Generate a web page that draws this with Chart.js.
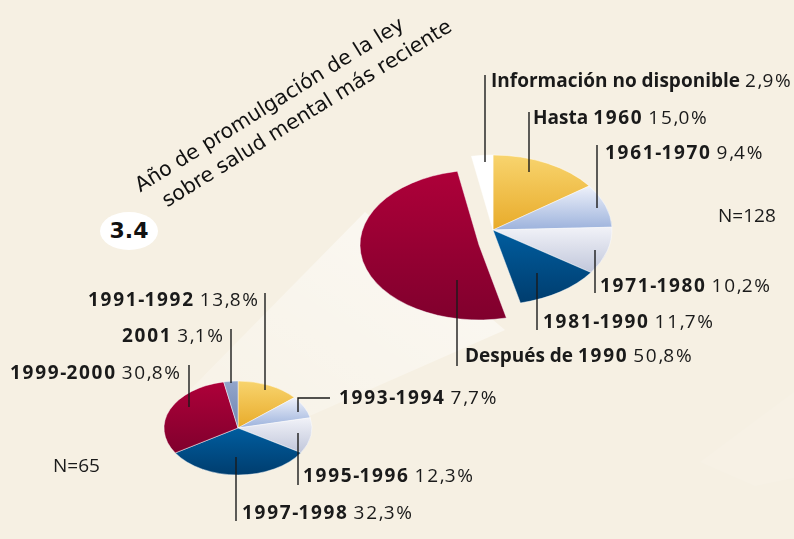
<!DOCTYPE html>
<html>
<head>
<meta charset="utf-8">
<script src="https://cdn.jsdelivr.net/npm/chart.js@4.4.0/dist/chart.umd.min.js"></script>
<style>
  html, body { margin: 0; padding: 0; }
  body { width: 794px; height: 539px; overflow: hidden; background: #f6f0e3; }
  #stage { position: relative; width: 794px; height: 539px; font-family: "Open Sans", sans-serif; color: #1a1a1a; }
  #bg, #lines { position: absolute; left: 0; top: 0; }
  canvas { position: absolute; }
  .lab { position: absolute; font-size: 19px; line-height: 19px; white-space: nowrap; }
  .lab b { font-weight: 700; }
  .dg { letter-spacing: 1.7px; }
  .ttl { position: absolute; font-family: "DejaVu Sans", sans-serif; font-size: 20.5px; line-height: 20.5px;
         white-space: nowrap; transform-origin: 0 100%; transform: rotate(-31.8deg); color: #111; }
  #badge { position: absolute; left: 100px; top: 212px; width: 58px; height: 38px; border-radius: 50%;
           background: #fff; font-family: "DejaVu Sans", sans-serif; font-weight: bold; font-size: 22px;
           line-height: 38px; text-align: center; color: #111; }
</style>
</head>
<body>
<div id="stage">
  <svg id="bg" width="794" height="539">
    <defs>
      <linearGradient id="beam" x1="0" y1="1" x2="1" y2="0">
        <stop offset="0" stop-color="#ffffff" stop-opacity="0.15"/>
        <stop offset="1" stop-color="#ffffff" stop-opacity="0.6"/>
      </linearGradient>
    </defs>
    <polygon points="185,395 365,212 505,330 305,418" fill="url(#beam)"/>
    <polygon points="700,462 794,392 794,478 755,486" fill="#ffffff" fill-opacity="0.1"/>
  </svg>
  <canvas id="bigRest" width="300" height="300" style="left:343px;top:80px;width:300px;height:300px"></canvas>
  <canvas id="bigOut" width="300" height="300" style="left:329px;top:95px;width:300px;height:300px"></canvas>
  <canvas id="small" width="180" height="180" style="left:148px;top:338px;width:180px;height:180px"></canvas>
  <svg id="lines" width="794" height="539"></svg>
  <div class="ttl" style="left:142px;top:175px">Año de promulgación de la ley</div>
  <div class="ttl" style="left:169px;top:190px">sobre salud mental más reciente</div>
  <div id="badge">3.4</div>
</div>
<script>
// gran pastel: N=128
var bigLabels = ['Hasta 1960', '1961-1970', '1971-1980', '1981-1990', 'Después de 1990', 'Información no disponible'];
var bigValues = [15.0, 9.4, 10.2, 11.7, 50.8, 2.9];
var bigN = 128;
var bigExploded = 4;
// pastel pequeño: N=65
var smallLabels = ['1991-1992', '1993-1994', '1995-1996', '1997-1998', '1999-2000', '2001'];
var smallValues = [13.8, 7.7, 12.3, 32.3, 30.8, 3.1];
var smallN = 65;

var YELLOW = ['#f8d46e', '#e8ab2a'];
var LBLUE = ['#eef1fa', '#9cb2dc'];
var PALE = ['#f1f2f8', '#c1c7db'];
var DBLUE = ['#005d9f', '#003d6e'];
var RED = ['#ae0039', '#80002d'];
var WHITE = ['#ffffff', '#ffffff'];
var GREY = ['#93a6cb', '#6f84b2'];

var bigColors = [YELLOW, LBLUE, PALE, DBLUE, RED, WHITE];
var smallColors = [YELLOW, LBLUE, PALE, DBLUE, RED, GREY];

var squash = {
  id: 'squash',
  beforeDatasetsDraw(chart, args, opts) {
    var a = chart.chartArea;
    var cx = (a.left + a.right) / 2, cy = (a.top + a.bottom) / 2;
    var ctx = chart.ctx;
    ctx.save();
    ctx.translate(cx, cy);
    ctx.scale(1, opts.k);
    ctx.translate(-cx, -cy);
  },
  afterDatasetsDraw(chart) {
    chart.ctx.restore();
  }
};

function sliceGradient(c, values, colors, radius) {
  var chart = c.chart, i = c.dataIndex;
  var a = chart.chartArea;
  if (!a) return colors[i][1];
  var cy = (a.top + a.bottom) / 2;
  var total = values.reduce((p, v) => p + v, 0);
  var cum = 0;
  for (var j = 0; j < i; j++) cum += values[j];
  var a0 = -Math.PI / 2 + 2 * Math.PI * cum / total;
  var a1 = a0 + 2 * Math.PI * values[i] / total;
  var ys = [0, Math.sin(a0), Math.sin(a1)];
  [Math.PI / 2, 3 * Math.PI / 2].forEach(t => { if (t > a0 && t < a1) ys.push(Math.sin(t)); });
  var y0 = cy + radius * Math.min.apply(null, ys);
  var y1 = cy + radius * Math.max.apply(null, ys);
  var g = chart.ctx.createLinearGradient(0, y0, 0, y1);
  g.addColorStop(0, colors[i][0]);
  g.addColorStop(1, colors[i][1]);
  return g;
}

function makePie(id, labels, values, colors, radius, k, show) {
  return new Chart(document.getElementById(id), {
    type: 'pie',
    data: {
      labels: labels,
      datasets: [{
        data: values,
        backgroundColor: c => show(c.dataIndex) ? sliceGradient(c, values, colors, radius) : 'rgba(0,0,0,0)',
        borderColor: c => show(c.dataIndex) ? 'rgba(255,255,255,0.7)' : 'rgba(0,0,0,0)',
        borderWidth: 0.8,
        clip: false
      }]
    },
    options: {
      responsive: false,
      animation: false,
      events: [],
      radius: radius,
      layout: { padding: 0 },
      plugins: { legend: { display: false }, tooltip: { enabled: false }, squash: { k: k } }
    },
    plugins: [squash]
  });
}

// el sector "Después de 1990" va separado, en su propio lienzo desplazado
makePie('bigRest', bigLabels, bigValues, bigColors, 119, 0.63, i => i !== bigExploded);
makePie('bigOut', bigLabels, bigValues, bigColors, 119, 0.63, i => i === bigExploded);
makePie('small', smallLabels, smallValues, smallColors, 74, 0.635, i => true);

function pct(v) {
  return v.toFixed(1).replace('.', ',') + '%';
}

function digits(s) {
  return String(s).replace(/(\d+)/g, '<span class="dg">$1</span>');
}

// etiquetas: [indice, x, linea base, alineacion]
var bigPlaces = [[0, 533, 125, 'l'], [1, 605, 160, 'l'], [2, 600, 293, 'l'], [3, 543, 329, 'l'], [4, 465, 363, 'l'], [5, 491, 88, 'l']];
var smallPlaces = [[0, 258, 307, 'r'], [1, 339, 405, 'l'], [2, 303, 483, 'l'], [3, 242, 520, 'l'], [4, 180, 380, 'r'], [5, 223, 343, 'r']];
var bigLeaders = [[[529, 112], [529, 172]], [[597, 145], [597, 208]], [[595, 250], [595, 293]],
                  [[537, 273], [537, 330]], [[457, 280], [457, 366]], [[485, 75], [485, 162]]];
var smallLeaders = [[[265, 293], [265, 390]], [[330, 398], [298, 398], [298, 412]], [[298, 433], [298, 485]],
                    [[236, 457], [236, 521]], [[189, 365], [189, 407]], [[231, 329], [231, 383]]];

var stage = document.getElementById('stage');

function addLabel(html, x, base, align) {
  var d = document.createElement('div');
  d.className = 'lab';
  d.innerHTML = html;
  d.style.top = (base - 17) + 'px';
  if (align === 'r') d.style.right = (794 - x) + 'px';
  else d.style.left = x + 'px';
  stage.appendChild(d);
}

bigPlaces.forEach(p => addLabel('<b>' + digits(bigLabels[p[0]]) + '</b> ' + digits(pct(bigValues[p[0]])), p[1], p[2], p[3]));
smallPlaces.forEach(p => addLabel('<b>' + digits(smallLabels[p[0]]) + '</b> ' + digits(pct(smallValues[p[0]])), p[1], p[2], p[3]));
addLabel('N=' + bigN, 718, 223, 'l');
addLabel('N=' + smallN, 53, 473, 'l');

var svg = document.getElementById('lines');
bigLeaders.concat(smallLeaders).forEach(pts => {
  var pl = document.createElementNS('http://www.w3.org/2000/svg', 'polyline');
  pl.setAttribute('points', pts.map(p => p.join(',')).join(' '));
  pl.setAttribute('fill', 'none');
  pl.setAttribute('stroke', '#1a1a1a');
  pl.setAttribute('stroke-width', '1.4');
  svg.appendChild(pl);
});
</script>
</body>
</html>
